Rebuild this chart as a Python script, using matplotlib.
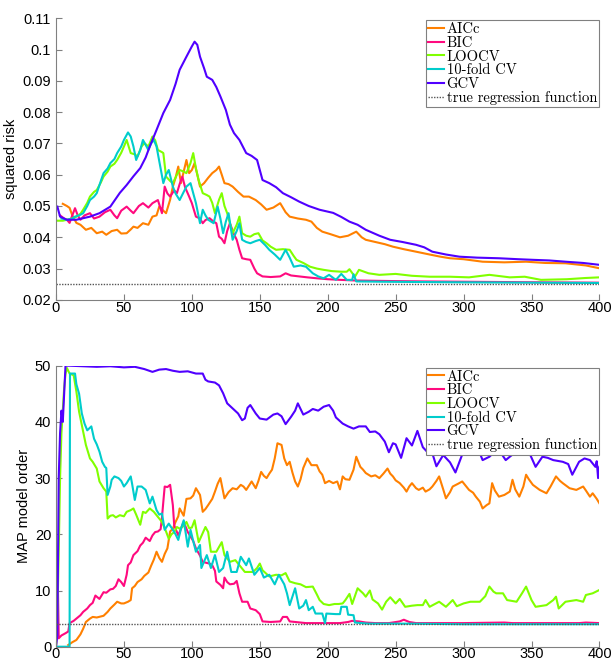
import matplotlib
matplotlib.use('Agg')
import matplotlib.pyplot as plt
import numpy as np
from matplotlib.ticker import FormatStrFormatter

# ---- top panel: squared risk (x, value) pairs ----
aicc_risk = [(5,0.0507),(8,0.0500),(10,0.0494),(12,0.0470),(15,0.0446),(18,0.0440),(22,0.0424),(26,0.0430),(30,0.0413),
    (34,0.0418),(37,0.0408),(41,0.0420),(45,0.0424),(48,0.0412),(52,0.0413),(55,0.0425),(57,0.0434),(60,0.0430),(64,0.0445),
    (68,0.0440),(71,0.0466),(74,0.0470),(76,0.0498),(79,0.0485),(81,0.0477),(84,0.0520),(86,0.0562),(88,0.0590),(90,0.0626),
    (92,0.0573),(94,0.0610),(96,0.0647),(98,0.0605),(100,0.0615),(102,0.0637),(104,0.0600),(106,0.0562),(109,0.0573),
    (112,0.0590),(115,0.0605),(118,0.0615),(120,0.0626),(122,0.0600),(124,0.0573),(127,0.0570),(130,0.0562),(134,0.0545),
    (138,0.0530),(142,0.0530),(147,0.0519),(151,0.0505),(155,0.0488),(160,0.0495),(165,0.0509),(169,0.0480),(172,0.0466),
    (178,0.0460),(184,0.0456),(188,0.0450),(192,0.0430),(196,0.0418),(202,0.0410),(209,0.0400),(215,0.0405),(221,0.0418),
    (225,0.0400),(228,0.0392),(235,0.0385),(242,0.0378),(248,0.0370),(256,0.0362),(265,0.0354),(275,0.0345),(283,0.0338),
    (290,0.0333),(300,0.0330),(314,0.0322),(330,0.0320),(346,0.0322),(360,0.0318),(375,0.0317),(390,0.0310),(400,0.0301)]
bic_risk = [(3,0.0470),(6,0.0460),(8,0.0456),(10,0.0446),(12,0.0470),(14,0.0493),(16,0.0470),(18,0.0456),(21,0.0470),
    (25,0.0477),(28,0.0460),(32,0.0466),(36,0.0480),(40,0.0488),(43,0.0470),(45,0.0461),(48,0.0485),(52,0.0498),(55,0.0485),
    (57,0.0477),(61,0.0500),(64,0.0509),(68,0.0495),(71,0.0509),(75,0.0519),(78,0.0477),(80,0.0562),(82,0.0540),(84,0.0530),
    (87,0.0550),(89,0.0541),(91,0.0570),(93,0.0594),(95,0.0560),(98,0.0530),(100,0.0509),(103,0.0466),(106,0.0460),
    (108,0.0445),(110,0.0455),(113,0.0461),(116,0.0450),(118,0.0445),(120,0.0402),(122,0.0395),(124,0.0381),(126,0.0420),
    (128,0.0445),(131,0.0410),(133,0.0392),(135,0.0360),(137,0.0333),(140,0.0330),(143,0.0328),(146,0.0300),(148,0.0285),
    (152,0.0275),(158,0.0273),(165,0.0275),(169,0.0285),(173,0.0278),(179,0.0275),(185,0.0272),(192,0.0269),(200,0.0266),
    (209,0.0264),(220,0.0262),(235,0.0261),(250,0.0260),(270,0.0259),(300,0.0258),(330,0.0257),(360,0.0256),(400,0.0255)]
loocv_risk = [(1,0.0453),(5,0.0453),(8,0.0456),(12,0.0460),(15,0.0466),(18,0.0475),(20,0.0488),(23,0.0510),(25,0.0530),
    (28,0.0545),(30,0.0551),(33,0.0575),(35,0.0594),(38,0.0610),(40,0.0626),(43,0.0635),(45,0.0647),(48,0.0670),(50,0.0690),
    (52,0.0711),(55,0.0669),(58,0.0665),(60,0.0658),(63,0.0690),(65,0.0701),(68,0.0690),(71,0.0722),(73,0.0710),(75,0.0679),
    (78,0.0672),(79,0.0669),(81,0.0594),(84,0.0580),(86,0.0573),(89,0.0600),(91,0.0615),(94,0.0610),(96,0.0605),(99,0.0637),
    (101,0.0669),(103,0.0620),(105,0.0583),(108,0.0541),(111,0.0535),(113,0.0530),(115,0.0510),(117,0.0477),(120,0.0520),
    (122,0.0541),(124,0.0500),(126,0.0477),(128,0.0445),(130,0.0413),(133,0.0440),(135,0.0466),(137,0.0413),(140,0.0405),
    (143,0.0402),(146,0.0410),(149,0.0413),(152,0.0390),(155,0.0381),(158,0.0370),(162,0.0360),(167,0.0362),(172,0.0360),
    (175,0.0340),(177,0.0328),(182,0.0318),(187,0.0306),(192,0.0300),(197,0.0296),(203,0.0292),(210,0.0290),(214,0.0290),
    (216,0.0298),(220,0.0274),(223,0.0296),(230,0.0285),(238,0.0280),(250,0.0283),(262,0.0277),(275,0.0274),(290,0.0274),
    (304,0.0272),(319,0.0280),(334,0.0272),(345,0.0274),(357,0.0264),(376,0.0266),(390,0.0270),(400,0.0272)]
cv10_risk = [(4,0.0460),(8,0.0456),(12,0.0460),(14,0.0466),(17,0.0470),(20,0.0477),(23,0.0500),(25,0.0519),(28,0.0530),
    (30,0.0541),(33,0.0580),(35,0.0605),(38,0.0620),(40,0.0637),(43,0.0650),(45,0.0669),(48,0.0690),(50,0.0711),(53,0.0735),
    (55,0.0722),(57,0.0690),(59,0.0647),(62,0.0679),(64,0.0711),(66,0.0695),(68,0.0679),(70,0.0700),(72,0.0711),(74,0.0690),
    (77,0.0620),(79,0.0573),(81,0.0600),(83,0.0615),(86,0.0562),(88,0.0540),(91,0.0519),(94,0.0545),(96,0.0562),(99,0.0573),
    (101,0.0541),(103,0.0509),(106,0.0445),(108,0.0488),(110,0.0470),(112,0.0456),(116,0.0445),(119,0.0498),(121,0.0460),
    (123,0.0413),(125,0.0450),(127,0.0477),(130,0.0392),(133,0.0420),(135,0.0445),(137,0.0392),(140,0.0385),(143,0.0381),
    (147,0.0388),(150,0.0392),(154,0.0375),(157,0.0360),(161,0.0345),(165,0.0328),(169,0.0360),(172,0.0335),(175,0.0306),
    (180,0.0310),(184,0.0306),(189,0.0285),(193,0.0275),(197,0.0269),(201,0.0280),(206,0.0264),(210,0.0283),(214,0.0264),
    (218,0.0264),(219,0.0282),(221,0.0259),(240,0.0258),(270,0.0257),(300,0.0256),(350,0.0255),(400,0.0254)]
gcv_risk = [(1,0.0498),(3,0.0466),(8,0.0456),(15,0.0456),(25,0.0466),(32,0.0477),(40,0.0498),(47,0.0542),(52,0.0567),
    (57,0.0595),(62,0.0621),(66,0.0655),(69,0.0690),(74,0.0743),(79,0.0797),(84,0.0839),(88,0.0890),(91,0.0935),(96,0.0977),
    (100,0.1010),(102,0.1025),(104,0.1015),(106,0.0977),(109,0.0940),(111,0.0913),(115,0.0903),(118,0.0880),(121,0.0850),
    (125,0.0807),(128,0.0760),(131,0.0733),(135,0.0711),(140,0.0669),(144,0.0660),(148,0.0647),(152,0.0583),(157,0.0573),
    (162,0.0560),(167,0.0541),(173,0.0528),(179,0.0514),(186,0.0500),(194,0.0488),(204,0.0478),(210,0.0465),(216,0.0450),
    (222,0.0440),(228,0.0424),(238,0.0405),(246,0.0392),(255,0.0385),(265,0.0376),(271,0.0368),(277,0.0354),(287,0.0345),
    (297,0.0338),(310,0.0335),(326,0.0333),(340,0.0330),(351,0.0328),(363,0.0326),(375,0.0322),(388,0.0318),(400,0.0312)]
true_risk = 0.025

# ---- bottom panel: MAP model order ----
aicc_order = [(9,0.3),(12,0.8),(15,1.2),(18,2.2),(20,3.2),(22,4.4),(25,5.0),(27,5.3),(30,5.2),(35,5.5),(38,6.2),(40,6.8),
    (43,7.5),(45,8.0),(48,7.7),(50,7.7),(53,8.0),(55,8.3),(56,10.4),(58,10.8),(60,11.5),(63,12.0),(65,12.6),(68,13.2),
    (70,14.4),(72,15.5),(74,16.9),(76,15.8),(78,15.1),(80,16.5),(82,17.5),(84,20.5),(86,21.0),(88,22.2),(90,23.2),(91,24.6),
    (94,23.3),(96,26.3),(99,26.4),(101,26.9),(103,28.2),(106,27.0),(108,24.0),(110,24.5),(112,25.2),(115,26.3),(117,27.6),
    (119,29.0),(121,30.0),(124,26.4),(127,27.5),(130,28.2),(133,28.0),(136,28.8),(138,28.5),(140,27.9),(144,29.4),(147,28.2),
    (149,29.5),(151,31.1),(153,30.4),(155,30.0),(157,30.8),(159,31.5),(161,33.5),(163,36.2),(166,35.9),(168,33.5),(170,32.3),
    (172,32.9),(174,31.0),(176,29.4),(178,28.5),(180,29.8),(182,31.8),(185,33.5),(188,32.3),(192,32.3),(194,31.2),(196,30.6),
    (198,29.1),(201,29.5),(204,29.1),(207,29.4),(209,28.0),(211,30.3),(213,29.8),(216,29.7),(219,31.5),(221,33.8),(224,32.0),
    (226,31.5),(228,30.9),(232,30.3),(235,30.5),(238,30.0),(241,30.8),(244,31.7),(246,30.8),(248,30.3),(250,29.6),(253,29.1),
    (256,28.3),(258,27.6),(260,28.5),(262,29.1),(265,28.2),(267,27.9),(270,28.3),(272,27.6),(275,28.0),(277,28.5),(280,29.5),
    (282,30.3),(285,28.0),(287,26.4),(290,27.5),(292,28.5),(296,29.0),(299,29.4),(302,28.5),(304,27.9),(307,27.4),(309,26.7),
    (312,25.8),(314,24.6),(317,25.2),(319,25.5),(321,29.1),(323,27.8),(326,26.7),(330,27.0),(334,27.6),(336,29.7),(338,28.0),
    (341,26.7),(344,28.5),(346,30.6),(348,29.8),(351,28.8),(356,27.9),(361,27.3),(364,28.5),(368,30.3),(371,29.5),(373,29.1),
    (378,28.2),(383,27.9),(388,28.5),(390,27.8),(393,26.7),(395,27.3),(398,26.3),(400,25.5)]
bic_order = [(0,0),(1,17),(2,1.5),(4,2.0),(7,2.4),(9,2.7),(10,4.2),(13,4.6),(15,5.0),(18,5.6),(20,6.2),(23,6.8),(25,7.4),
    (27,7.8),(29,9.1),(32,8.5),(35,9.7),(37,9.6),(40,10.2),(42,10.3),(44,10.8),(46,12.0),(48,11.5),(50,10.8),(52,12.8),
    (53,14.5),(55,15.0),(57,16.3),(60,17.0),(62,18.0),(64,18.5),(66,19.4),(69,18.8),(71,19.8),(73,20.4),(75,20.5),(77,20.9),
    (78,23.0),(79,25.8),(80,28.5),(82,28.4),(84,28.8),(85,27.0),(86,25.2),(87,21.6),(90,19.8),(92,21.0),(94,22.2),(97,20.4),
    (99,19.6),(101,18.8),(103,17.5),(106,16.2),(108,15.1),(111,14.9),(113,14.8),(115,14.5),(117,13.5),(118,11.6),(121,11.0),
    (123,10.4),(124,12.3),(126,11.5),(128,11.1),(131,11.2),(133,11.7),(135,9.5),(137,8.0),(141,8.0),(143,6.8),(147,6.5),
    (150,5.8),(152,4.5),(158,4.4),(165,4.5),(167,5.3),(170,5.3),(172,4.5),(184,4.2),(200,4.2),(209,4.2),(215,4.4),(218,4.6),
    (223,4.5),(228,4.3),(235,4.2),(245,4.2),(253,4.5),(256,4.8),(260,4.4),(265,4.2),(300,4.2),(330,4.3),(336,4.2),(370,4.2),
    (385,4.2),(390,4.3),(400,4.2)]
loocv_order = [(0,0),(1,5),(2,17),(3,30),(4,38),(5,42),(6,46),(7,48.5),(8,49.6),(10,48.6),(13,48.3),(15,45.4),(17,41.8),
    (20,38.3),(22,35.9),(25,33.5),(27,32.9),(30,31.7),(32,29.4),(35,28.2),(37,27.6),(38,22.8),(40,23.3),(42,23.4),(44,23.0),
    (47,23.4),(50,23.2),(52,24.0),(55,24.3),(57,24.6),(59,23.5),(62,21.7),(64,24.0),(66,23.8),(69,24.6),(72,24.0),(74,23.4),
    (76,22.8),(78,22.2),(81,20.5),(83,19.2),(85,20.0),(87,20.4),(89,21.3),(91,21.0),(94,21.5),(96,22.2),(98,21.1),(100,21.2),
    (102,22.5),(105,18.6),(108,20.2),(110,21.3),(112,20.4),(114,16.9),(118,16.9),(122,18.6),(124,16.3),(128,15.1),(132,15.4),
    (135,14.5),(139,13.3),(145,13.3),(148,14.0),(150,14.8),(152,13.6),(157,12.5),(162,12.8),(166,12.7),(169,13.1),(172,11.6),
    (176,11.3),(180,11.1),(184,10.6),(189,10.7),(192,9.3),(194,8.3),(197,7.6),(201,7.4),(205,7.6),(208,7.6),(211,7.7),
    (213,8.3),(216,9.4),(218,7.6),(222,10.4),(226,9.5),(228,8.9),(231,10.0),(233,8.4),(237,7.7),(240,6.6),(243,8.0),(246,8.8),
    (250,7.7),(253,8.5),(257,7.1),(262,7.3),(266,7.4),(270,7.4),(272,8.3),(275,7.1),(282,8.0),(287,7.1),(292,8.3),(295,7.2),
    (300,7.7),(305,8.0),(312,8.0),(316,9.0),(319,10.7),(322,9.8),(324,9.5),(329,9.5),(332,8.3),(339,8.0),(343,9.5),(346,10.7),
    (350,8.3),(353,7.1),(358,7.3),(361,7.4),(366,8.3),(368,8.9),(370,6.8),(375,8.0),(383,8.3),(388,8.0),(390,9.2),(395,9.5),
    (400,10.1)]
cv10_order = [(0,0),(10,0),(10.3,48.6),(14,48.6),(15,46.7),(17,45.0),(19,41.5),(21,39.7),(23,38.5),(26,39.2),(28,37.0),
    (30,36.0),(32,34.7),(34,32.9),(36,32.0),(37,31.8),(38,27.0),(40,28.5),(41,29.7),(43,30.3),(46,30.0),(48,29.5),(50,28.5),
    (52,29.1),(55,30.3),(56,29.0),(58,26.1),(60,28.5),(63,28.5),(66,27.9),(69,25.5),(71,26.7),(74,24.3),(76,23.5),(78,23.7),
    (80,20.8),(83,21.9),(86,20.8),(88,20.0),(90,19.0),(92,21.0),(94,22.5),(97,17.8),(99,20.8),(101,18.8),(103,16.9),
    (106,18.1),(107,14.0),(111,16.3),(114,14.0),(117,16.3),(120,13.3),(123,14.0),(126,16.9),(129,13.3),(133,13.3),(136,16.0),
    (140,14.5),(142,15.7),(146,12.8),(150,14.0),(153,12.3),(157,12.8),(161,11.1),(164,12.8),(168,11.1),(170,9.5),(172,7.4),
    (176,10.4),(179,6.8),(182,7.3),(184,8.3),(186,6.5),(189,7.1),(191,5.9),(196,5.9),(198,4.2),(199,5.9),(206,5.8),(209,5.8),
    (210,7.1),(214,7.1),(215,5.7),(219,5.6),(220,4.3),(230,4.1),(260,4.1),(300,4.0),(350,4.0),(400,4.0)]
gcv_order = [(0,0),(1,2),(2,30),(3,38),(4,42),(5,40),(6,45),(7,50),(10,50),(20,49.9),(30,49.8),(40,49.9),(50,49.7),
    (58,49.8),(65,49.4),(71,48.9),(76,49.3),(81,49.4),(86,49.1),(91,48.9),(97,49.0),(103,48.6),(108,48.6),(110,47.5),
    (112,47.2),(117,47.0),(120,46.5),(123,45.1),(126,43.3),(130,42.4),(134,41.5),(137,40.3),(139,40.6),(141,42.5),(143,43.0),
    (147,41.5),(150,40.6),(155,40.4),(160,41.3),(163,41.5),(166,41.0),(169,39.6),(173,40.9),(176,42.0),(178,43.3),(182,41.3),
    (186,41.8),(189,42.3),(193,42.0),(197,42.7),(201,43.0),(204,42.0),(206,40.8),(211,39.7),(215,39.2),(219,38.8),(223,39.2),
    (228,39.2),(231,38.2),(235,38.3),(238,37.8),(242,36.5),(245,34.6),(248,36.2),(250,36.0),(254,33.6),(258,37.1),(262,35.8),
    (266,38.4),(270,35.5),(275,34.2),(277,34.4),(280,32.1),(285,34.1),(290,32.8),(294,31.0),(299,34.2),(303,34.8),(307,35.0),
    (310,35.6),(314,33.2),(319,33.8),(322,34.5),(326,35.0),(331,33.2),(335,34.0),(339,34.7),(344,34.4),(348,34.7),(353,32.0),
    (358,33.8),(362,33.6),(366,33.2),(373,32.9),(377,32.5),(380,30.6),(385,32.9),(389,33.5),(393,33.2),(397,32.0),(398,33.0),
    (399,30.0),(400,32.0)]
true_order = 4

labels = ["AICc", "BIC", "LOOCV", "10-fold CV", "GCV", "true regression function"]
colors = ['#ff8000', '#ff0a7f', '#80ff00', '#00cccc', '#5000ff']

plt.rcParams['font.family'] = ['Liberation Sans', 'DejaVu Sans']
plt.rcParams['font.size'] = 10

fig = plt.figure(figsize=(6.12, 6.62), dpi=100)
ax1 = fig.add_axes([0.0915, 0.547, 0.888, 0.4255])
ax2 = fig.add_axes([0.0915, 0.0231, 0.888, 0.4245])


def draw(ax, series, truth, ylim, yticks, fmt, ylabel):
    for s, c, lab in zip(series, colors, labels):
        x, y = np.array(s).T
        ax.plot(x, y, color=c, lw=1.5, label=lab)
    ax.plot([0, 400], [truth, truth], color='#555555', lw=1.0, ls=(0, (1, 1)), label=labels[-1])
    ax.set_xlim(0, 400)
    ax.set_ylim(*ylim)
    ax.set_xticks(np.arange(0, 401, 50))
    ax.set_yticks(yticks)
    ax.yaxis.set_major_formatter(FormatStrFormatter(fmt))
    ax.spines['top'].set_visible(False)
    ax.spines['right'].set_visible(False)
    for sp in ('left', 'bottom'):
        ax.spines[sp].set_color('#808080')
    ax.tick_params(direction='in', length=4, color='#808080', labelsize=10.5)
    ax.tick_params(axis='x', pad=0.5)
    ax.set_ylabel(ylabel, fontsize=10.5, labelpad=3)
    leg = ax.legend(loc='upper right', bbox_to_anchor=(0.9995, 0.993), prop={'family': 'cmr10', 'size': 10.5},
                    frameon=True, fancybox=False, framealpha=1, edgecolor='#808080', borderpad=0.15,
                    labelspacing=0.0, handlelength=1.1, handletextpad=0.15, borderaxespad=0.0)
    leg.get_frame().set_linewidth(0.8)


draw(ax1, [aicc_risk, bic_risk, loocv_risk, cv10_risk, gcv_risk], true_risk, (0.02, 0.11),
     np.arange(0.02, 0.111, 0.01), '%g', 'squared risk')
draw(ax2, [aicc_order, bic_order, loocv_order, cv10_order, gcv_order], true_order, (0, 50),
     np.arange(0, 51, 10), '%g', 'MAP model order')

fig.savefig('out.png', dpi=100)
